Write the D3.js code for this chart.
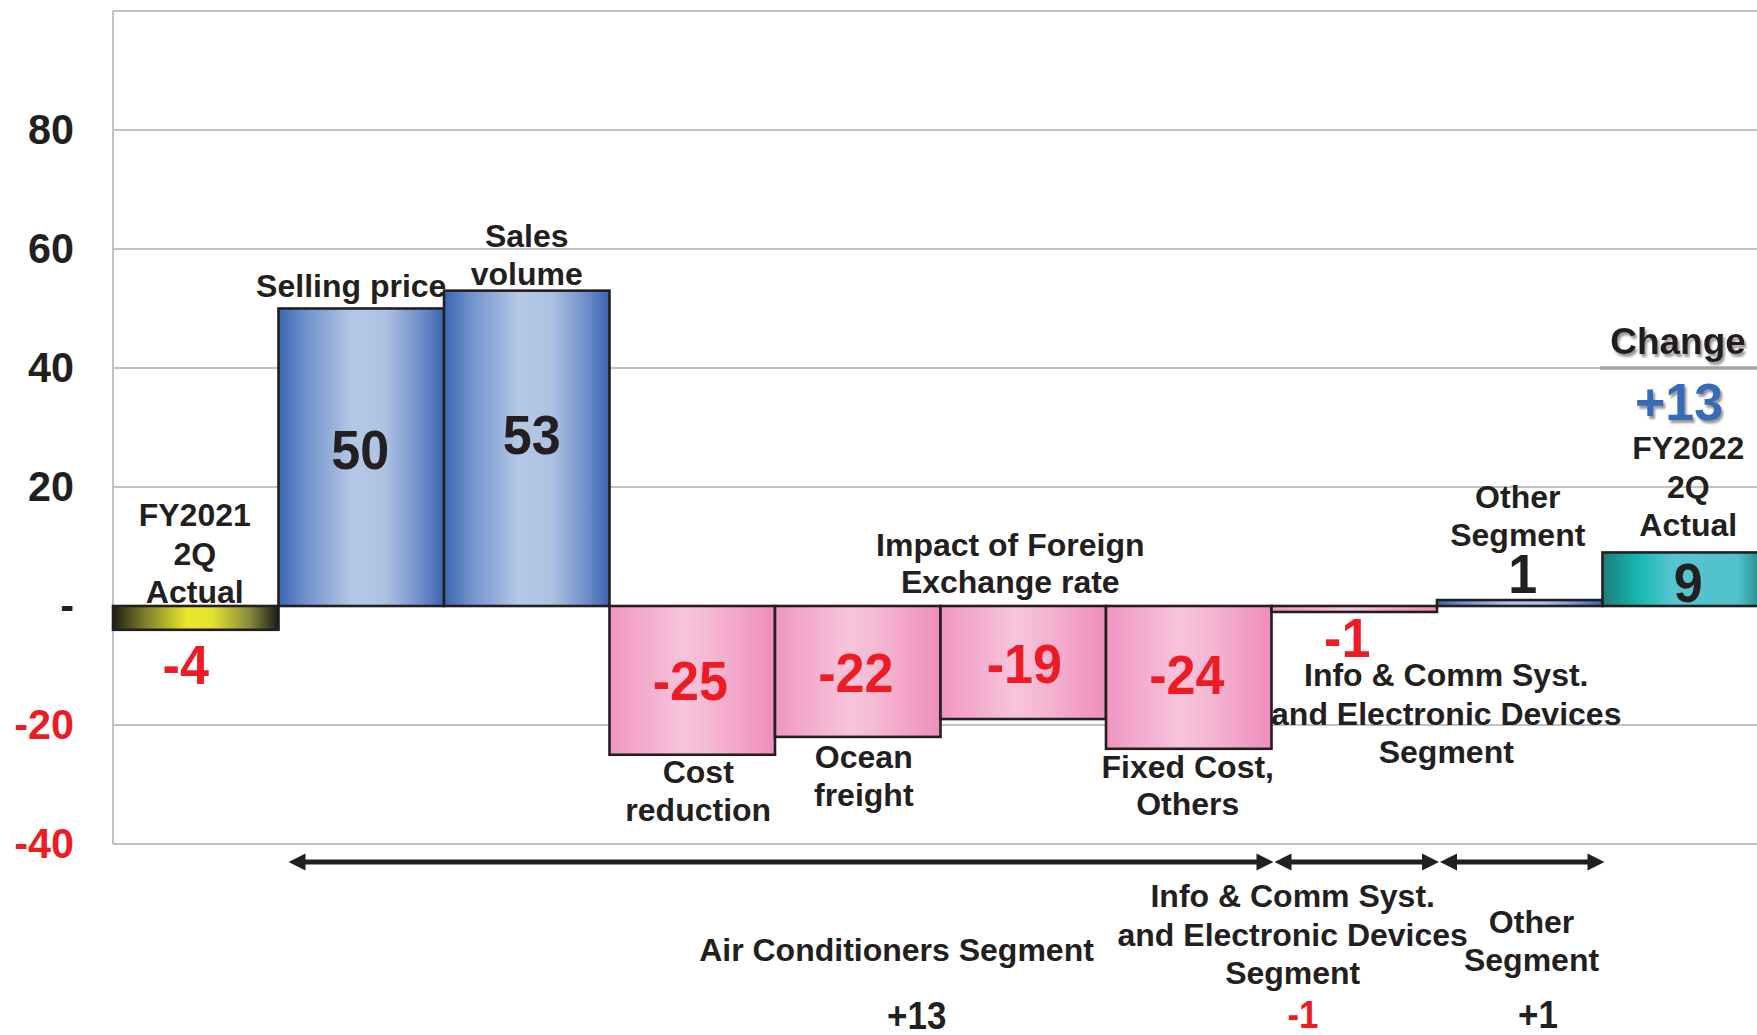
<!DOCTYPE html>
<html>
<head>
<meta charset="utf-8">
<script src="https://cdn.jsdelivr.net/npm/d3@7"></script>
<style>
  html, body { margin: 0; padding: 0; background: #ffffff; }
  svg { display: block; }
  text { font-family: "Liberation Sans", Arial, Helvetica, sans-serif; font-weight: bold; }
</style>
</head>
<body>
<svg id="chart" width="1757" height="1035"></svg>
<script>
// Operating income bridge, FY2021 2Q -> FY2022 2Q (each step drawn from zero)
const categories = [
  "FY2021 2Q Actual", "Selling price", "Sales volume", "Cost reduction",
  "Ocean freight", "Impact of Foreign Exchange rate", "Fixed Cost, Others",
  "Info & Comm Syst. and Electronic Devices Segment", "Other Segment", "FY2022 2Q Actual"
];
const values = [-4, 50, 53, -25, -22, -19, -24, -1, 1, 9];
const valueLabels = ["-4", "50", "53", "-25", "-22", "-19", "-24", "-1", "1", "9"];
const barKinds = ["start", "up", "up", "down", "down", "down", "down", "down", "up", "end"];
const categoryLines = [
  ["FY2021", "2Q", "Actual"],
  ["Selling price"],
  ["Sales", "volume"],
  ["Cost", "reduction"],
  ["Ocean", "freight"],
  ["Impact of Foreign", "Exchange rate"],
  ["Fixed Cost,", "Others"],
  ["Info & Comm Syst.", "and Electronic Devices", "Segment"],
  ["Other", "Segment"],
  ["FY2022", "2Q", "Actual"]
];
const gridValues = [-40, -20, 0, 20, 40, 60, 80, 100];
const tickValues = [-40, -20, 0, 20, 40, 60, 80];
const tickLabels = ["-40", "-20", "-", "20", "40", "60", "80"];
const segmentNames = [
  ["Air Conditioners Segment"],
  ["Info & Comm Syst.", "and Electronic Devices", "Segment"],
  ["Other", "Segment"]
];
const segmentTotals = ["+13", "-1", "+1"];
const segmentFrom = [1, 7, 8];
const segmentTo = [7, 8, 9];
const changeTitle = "Change";
const changeTotal = "+13";

// ---- layout ----
const W = 1757, H = 1035;
const plotLeft = 113, plotTop = 11, plotBottom = 844, step = 165.5;
const INK = "#231f20", RED = "#ed1c24", BLUE_TXT = "#356cb5", GRID = "#c2c2c2";

const svg = d3.select("#chart");
const x = d3.scaleBand().domain(categories).range([plotLeft, plotLeft + step * categories.length]).padding(0);
const y = d3.scaleLinear().domain([-40, 100]).range([plotBottom, plotTop]);
const cx = i => x(categories[i]) + x.bandwidth() / 2;

// gradients
const defs = svg.append("defs");
const gradients = {
  up:    [[0, "#3b67b2"], [0.18, "#7595cd"], [0.45, "#b5c8e6"], [0.65, "#adc1e3"], [0.86, "#6f8eca"], [1, "#3a65b1"]],
  down:  [[0, "#f096c1"], [0.45, "#f7c4db"], [0.6, "#f5b9d4"], [1, "#ef8dbb"]],
  start: [[0, "#1f1f16"], [0.2, "#80802c"], [0.45, "#e9e92b"], [0.6, "#e2e232"], [0.82, "#8c8c3e"], [1, "#1d1d14"]],
  end:   [[0, "#1e7d79"], [0.22, "#16b8b2"], [0.42, "#56c5cf"], [0.82, "#4fc1cb"], [1, "#1c7a76"]]
};
Object.entries(gradients).forEach(([k, stops]) => {
  const g = defs.append("linearGradient").attr("id", "grad-" + k)
    .attr("x1", "0").attr("x2", "1").attr("y1", "0").attr("y2", "0");
  stops.forEach(([o, c]) => g.append("stop").attr("offset", o).attr("stop-color", c));
});
const shadow = defs.append("filter").attr("id", "shadow")
  .attr("x", "-10%").attr("y", "-20%").attr("width", "130%").attr("height", "150%");
shadow.append("feDropShadow").attr("dx", 2).attr("dy", 3).attr("stdDeviation", 1.2)
  .attr("flood-color", "#777").attr("flood-opacity", 0.75);

// gridlines and frame
svg.append("g").selectAll("line").data(gridValues).join("line")
  .attr("x1", plotLeft).attr("x2", W)
  .attr("y1", d => y(d)).attr("y2", d => y(d))
  .attr("stroke", GRID).attr("stroke-width", 2);
svg.append("line")
  .attr("x1", plotLeft).attr("x2", plotLeft)
  .attr("y1", y(100)).attr("y2", y(-40))
  .attr("stroke", GRID).attr("stroke-width", 2);

// y axis labels
const yAxis = d3.axisLeft(y).tickValues(tickValues).tickSize(0)
  .tickFormat(d => tickLabels[tickValues.indexOf(d)]);
const ag = svg.append("g").attr("transform", `translate(${plotLeft},0)`).call(yAxis);
ag.select(".domain").remove();
ag.selectAll(".tick text")
  .attr("x", null).attr("dy", null)
  .attr("transform", "translate(-39,13.5) scale(0.96,1)")
  .attr("text-anchor", "end")
  .style("font-size", "43px")
  .style("font-family", '"Liberation Sans", Arial, sans-serif')
  .style("font-weight", "bold")
  .attr("fill", d => d < 0 ? RED : INK);

// "Change" underline (thicker rule over the 40 gridline)
svg.append("line")
  .attr("x1", 1600).attr("x2", W)
  .attr("y1", y(40)).attr("y2", y(40))
  .attr("stroke", "#a3a3a3").attr("stroke-width", 3.5);

// bars
svg.append("g").selectAll("rect").data(values).join("rect")
  .attr("x", (d, i) => x(categories[i]))
  .attr("width", x.bandwidth())
  .attr("y", d => y(Math.max(d, 0)))
  .attr("height", d => Math.abs(y(d) - y(0)))
  .attr("fill", (d, i) => `url(#grad-${barKinds[i]})`)
  .attr("stroke", INK).attr("stroke-width", 2.6);

// text helper
function txt(px, baseline, s, size, color, sx = 1, filter = null) {
  const t = svg.append("text")
    .attr("transform", `translate(${px},${baseline}) scale(${sx},1)`)
    .attr("text-anchor", "middle")
    .style("font-size", size + "px")
    .attr("fill", color)
    .text(s);
  if (filter) t.attr("filter", filter);
  return t;
}
function block(px, baseline, lines, size, lh, color, sx = 1) {
  lines.forEach((s, k) => txt(px, baseline + k * lh, s, size, color, sx));
}

// category labels: [dx from band centre, first baseline, line height]
const catLayout = [
  [-1, 526, 38.5], [-10, 297, 38], [0, 247, 38], [6, 783, 38], [6, 768, 38],
  [-13, 556, 37], [-1, 778, 37], [92, 686, 38.5], [-2, 508, 38], [3, 459, 38.5]
];
categoryLines.forEach((lines, i) => {
  const [dx, b, lh] = catLayout[i];
  block(cx(i) + dx, b, lines, 32, lh, INK);
});

// value labels: [dx from band centre, baseline]
const valLayout = [
  [-10, 684], [-1, 469], [5, 454], [-2, 700], [-2, 692],
  [1, 683], [-2, 694], [-7, 657], [3, 593], [3, 602]
];
valueLabels.forEach((s, i) => {
  const [dx, b] = valLayout[i];
  const color = (values[i] < 0) ? RED : INK;
  txt(cx(i) + dx, b, s, 56, color, 0.93);
});

// change summary
txt(1678, 354, changeTitle, 37, INK, 1, "url(#shadow)");
txt(1679, 420, changeTotal, 52, BLUE_TXT, 1, "url(#shadow)");

// segment arrows
const arrowY = 862, head = 17, half = 8.5;
const ag2 = svg.append("g").attr("fill", INK).attr("stroke", INK);
segmentFrom.forEach((f, k) => {
  const x1 = x(categories[f]) + (k === 0 ? 10 : 3);
  const x2 = x(categories[segmentTo[k]]) + 2;
  ag2.append("line").attr("x1", x1 + head - 2).attr("x2", x2 - head + 2)
    .attr("y1", arrowY).attr("y2", arrowY).attr("stroke-width", 5);
  ag2.append("path").attr("stroke", "none")
    .attr("d", `M${x1},${arrowY} L${x1 + head},${arrowY - half} L${x1 + head},${arrowY + half} Z`);
  ag2.append("path").attr("stroke", "none")
    .attr("d", `M${x2},${arrowY} L${x2 - head},${arrowY - half} L${x2 - head},${arrowY + half} Z`);
});

// segment names and totals
const segLayout = [[896.5, 961, 38], [1292.7, 907, 38.5], [1531.5, 933, 38]];
const totLayout = [[916.7, 1029], [1303, 1028], [1538, 1028]];
segmentNames.forEach((lines, k) => {
  const [px, b, lh] = segLayout[k];
  block(px, b, lines, 32, lh, INK);
  const [tx, tb] = totLayout[k];
  txt(tx, tb, segmentTotals[k], 38, segmentTotals[k].startsWith("-") ? RED : INK, 0.92);
});
</script>
</body>
</html>
